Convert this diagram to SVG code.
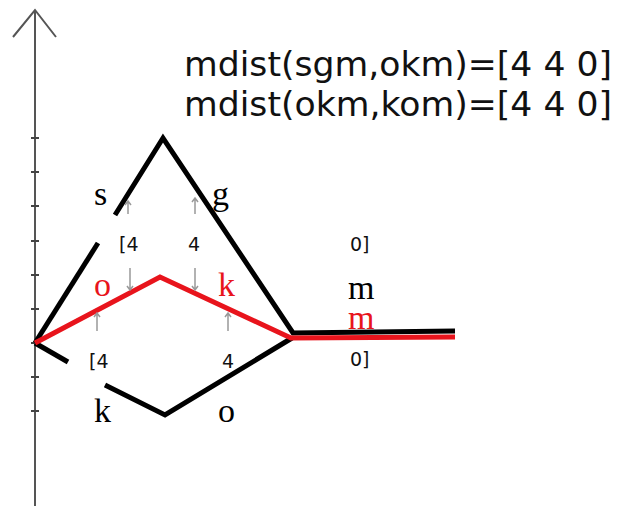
<svg xmlns="http://www.w3.org/2000/svg" width="624" height="506" viewBox="0 0 624 506">
<style>
.axis{stroke:#555;stroke-width:2;fill:none}
.tick{stroke:#444;stroke-width:2}
.blk{stroke:#000;stroke-width:5;fill:none;stroke-linejoin:miter}
.red{stroke:#e8141c;stroke-width:5;fill:none}
.arr{stroke:#999;stroke-width:1.5;fill:none}
.ser{font-family:"Liberation Serif",serif;font-size:34px}
.num{font-family:"DejaVu Sans",sans-serif;font-size:19px;fill:#111}
.big{font-family:"DejaVu Sans",sans-serif;font-size:34px;fill:#111}
</style>
<rect width="624" height="506" fill="#fff"/>
<g id="axis">
<line class="axis" x1="35" y1="10" x2="35" y2="506"/>
<polyline class="axis" points="13,37 35,10 56,37"/>
<g class="tick">
<line x1="31" y1="138" x2="39" y2="138"/>
<line x1="31" y1="172" x2="39" y2="172"/>
<line x1="31" y1="206" x2="39" y2="206"/>
<line x1="31" y1="241" x2="39" y2="241"/>
<line x1="31" y1="275" x2="39" y2="275"/>
<line x1="31" y1="309" x2="39" y2="309"/>
<line x1="31" y1="343" x2="39" y2="343"/>
<line x1="31" y1="377" x2="39" y2="377"/>
<line x1="31" y1="411" x2="39" y2="411"/>
</g>
</g>
<g id="connectors">
<polyline class="blk" points="35,343 98,243"/>
<polyline class="blk" points="115,215 163,138 293,333 455,331"/>
<polyline class="blk" points="35,343 68,362"/>
<polyline class="blk" points="105,385 165,415 292,338"/>
<polyline class="red" points="35,343 160,277 291,338 455,337"/>
<g class="arr">
<path d="M128,214 V201 M125,205 L128,201 L131,205"/>
<path d="M195,214 V198 M192,202 L195,198 L198,202"/>
<path d="M130,268 V290 M127,286 L130,290 L133,286"/>
<path d="M195,268 V290 M192,286 L195,290 L198,286"/>
<path d="M97,331 V313 M94,317 L97,313 L100,317"/>
<path d="M228,331 V313 M225,317 L228,313 L231,317"/>
</g>
</g>
<g id="label-sgm">
<text class="ser" x="94" y="205">s</text>
<text class="ser" x="212" y="205">g</text>
<text class="ser" x="348" y="299">m</text>
</g>
<g id="label-okm" fill="#e8141c">
<text class="ser" x="94" y="296">o</text>
<text class="ser" x="218" y="296">k</text>
<text class="ser" x="348" y="329">m</text>
</g>
<g id="label-kom">
<text class="ser" x="94" y="422">k</text>
<text class="ser" x="218" y="422">o</text>
</g>
<g id="dist-upper">
<text class="num" x="119" y="251">[4</text>
<text class="num" x="188" y="251">4</text>
<text class="num" x="350" y="251">0]</text>
</g>
<g id="dist-lower">
<text class="num" x="89" y="368">[4</text>
<text class="num" x="222" y="368">4</text>
<text class="num" x="350" y="366">0]</text>
</g>
<g id="formula">
<text class="big" x="184" y="76" textLength="428" lengthAdjust="spacingAndGlyphs">mdist(sgm,okm)=[4 4 0]</text>
<text class="big" x="184" y="116" textLength="428" lengthAdjust="spacingAndGlyphs">mdist(okm,kom)=[4 4 0]</text>
</g>
</svg>
